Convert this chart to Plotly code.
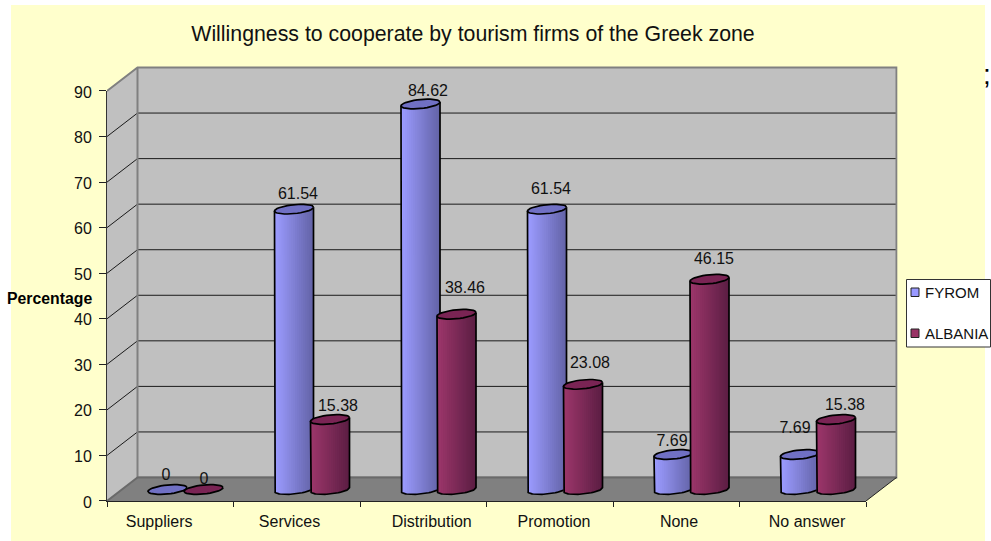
import math
import plotly.graph_objects as go

# ---------- data ----------
categories = ["Suppliers", "Services", "Distribution", "Promotion", "None", "No answer"]
fyrom = [0, 61.54, 84.62, 61.54, 7.69, 7.69]
albania = [0, 15.38, 38.46, 23.08, 46.15, 15.38]
y_ticks = [0, 10, 20, 30, 40, 50, 60, 70, 80, 90]
title_text = "Willingness to cooperate by tourism firms of the Greek zone"
y_title = "Percentage"
series_names = ["FYROM", "ALBANIA"]
fyrom_labels = ["0", "61.54", "84.62", "61.54", "7.69", "7.69"]
albania_labels = ["0", "15.38", "38.46", "23.08", "46.15", "15.38"]
stray_text = ";"

# ---------- page geometry (pixels) ----------
W, H = 991, 541
X0, Y0 = 107, 501          # origin of the front plane
XU, YU = 126.5, 4.5556     # pixels per category / per percent
XMAX, YMAX = 6.25, 96.0
DX, DY = 30.5 / XU, 23.5 / YU  # depth offset of the back wall
FLOOR_Y = 11.5 / YU        # cylinder base centre above the front edge
CENTER = [60.5 / XU, 96.5 / XU]  # centre of the series' cylinders inside a category
RX = 19.5 / XU
TILT = 1.9 / YU
RY = 4.5 / YU
N_STRIP = 19
LABEL_TICK_X = [0.412, 1.443, 2.567, 3.534, 4.522, 5.534]
LABEL_DX = [[-1.5, 4, 7.5, 4, -1.5, -5], [0.5, 8, 8.5, 7, 4.5, 9]]
LABEL_DY = [[13.5, 14.5, 12, 19, 12.5, 25.5], [9.5, 12.5, 25, 20.5, 19, 13.5]]
BLUE = ((155, 155, 255), (100, 100, 168))
RED = ((156, 54, 106), (92, 30, 68))
BLUE_TOP, RED_TOP = "#7070C4", "#7A2454"
INK = "#111111"
FONT = "Liberation Sans"


def px_x(v):
    return v / W


def px_y(v):
    return (H - v) / H


def lerp(pair, t):
    return "rgb(%d,%d,%d)" % tuple(round(a + (b - a) * t) for a, b in zip(*pair))


fig = go.Figure()


def poly(xs, ys, fill=None, line=None, width=1, axes=("x", "y")):
    fig.add_trace(go.Scatter(
        x=xs, y=ys, mode="lines", xaxis=axes[0], yaxis=axes[1],
        fill="toself" if fill else "none", fillcolor=fill,
        line=dict(color=line or "rgba(0,0,0,0)", width=width if line else 0),
        hoverinfo="skip", showlegend=False, connectgaps=False,
    ))


# walls and floor
top = 90
poly([0, DX, DX, 0, 0], [top, top + DY, DY, 0, top], fill="#C0C0C0")
poly([DX, 6 + DX, 6 + DX, DX, DX], [DY, DY, top + DY, top + DY, DY], fill="#C0C0C0")
poly([0, 6, 6 + DX, DX, 0], [0, 0, DY, DY, 0], fill="#808080")

# grid lines
gx, gy = [], []
for v in y_ticks[1:-1]:
    gx += [0, DX, 6 + DX, None]
    gy += [v, v + DY, v + DY, None]
poly(gx, gy, line="#1a1a1a", width=1)
poly([0, DX, 6 + DX, 6 + DX, DX, DX], [top, top + DY, top + DY, DY, DY, top + DY], line="#808080", width=2)
poly([0, DX, 6 + DX], [0, DY, DY], line="#6a6a6a", width=2)
poly([6, 6 + DX], [0, DY], line="#222222", width=1)


def ellipse_points(cx, cy, start, stop, n=36):
    xs, ys = [], []
    for k in range(n + 1):
        t = start + (stop - start) * k / n
        xs.append(cx + RX * math.cos(t))
        ys.append(cy + TILT * math.cos(t) + RY * math.sin(t))
    return xs, ys


for s, (vals, ramp, top_col) in enumerate(((fyrom, BLUE, BLUE_TOP), (albania, RED, RED_TOP))):
    # body, as vertical strips running from the base arc to the top rim
    for j in range(N_STRIP):
        sx, sy = [], []
        c0 = -1 + 2 * j / N_STRIP
        c1 = min(1.0, -1 + 2 * (j + 1.6) / N_STRIP)
        for i, v in enumerate(vals):
            cx = i + CENTER[s]
            base = FLOOR_Y
            top_y = FLOOR_Y + v
            lo0 = base + TILT * c0 - RY * math.sqrt(max(0, 1 - c0 * c0))
            lo1 = base + TILT * c1 - RY * math.sqrt(max(0, 1 - c1 * c1))
            hi0 = top_y + TILT * c0
            hi1 = top_y + TILT * c1
            sx += [cx + RX * c0, cx + RX * c1, cx + RX * c1, cx + RX * c0, cx + RX * c0, None]
            sy += [lo0, lo1, hi1, hi0, lo0, None]
        poly(sx, sy, fill=lerp(ramp, j / (N_STRIP - 1)))
    # outline of the body
    ox, oy = [], []
    for i, v in enumerate(vals):
        cx = i + CENTER[s]
        if v > 0:
            ax, ay = ellipse_points(cx, FLOOR_Y, math.pi, 2 * math.pi)
            ox += [cx - RX] + ax + [cx + RX, None]
            oy += [FLOOR_Y + v - TILT] + ay + [FLOOR_Y + v + TILT, None]
    poly(ox, oy, line="#000000", width=1.7)
    # top rim
    ex, ey = [], []
    for i, v in enumerate(vals):
        ax, ay = ellipse_points(i + CENTER[s], FLOOR_Y + v, 0, 2 * math.pi)
        ex += ax + [None]
        ey += ay + [None]
    poly(ex, ey, fill=top_col, line="#000000", width=1.7)

# data labels
for s, (vals, texts) in enumerate(((fyrom, fyrom_labels), (albania, albania_labels))):
    fig.add_trace(go.Scatter(
        x=[i + CENTER[s] + LABEL_DX[s][i] / XU for i in range(len(vals))],
        y=[FLOOR_Y + v + LABEL_DY[s][i] / YU for i, v in enumerate(vals)],
        mode="text", text=texts, textposition="middle center",
        textfont=dict(family=FONT, size=16, color=INK),
        hoverinfo="skip", showlegend=False, cliponaxis=False,
    ))

# empty trace that keeps the front-plane axes alive
fig.add_trace(go.Scatter(x=[None], y=[None], xaxis="x2", yaxis="y2", mode="lines",
                         hoverinfo="skip", showlegend=False))

shapes = [
    dict(type="rect", xref="paper", yref="paper", layer="below",
         x0=px_x(11), x1=px_x(985), y0=px_y(541), y1=px_y(5),
         fillcolor="#FFFFCC", line=dict(width=0)),
    dict(type="rect", xref="paper", yref="paper", layer="below",
         x0=px_x(906.5), x1=px_x(990.5), y0=px_y(347), y1=px_y(279.5),
         fillcolor="#FFFFFF", line=dict(color="#333333", width=1)),
    dict(type="rect", xref="paper", yref="paper", layer="below",
         x0=px_x(911), x1=px_x(919), y0=px_y(296.5), y1=px_y(288),
         fillcolor="#9999FF", line=dict(color="#222222", width=1)),
    dict(type="rect", xref="paper", yref="paper", layer="below",
         x0=px_x(911), x1=px_x(919), y0=px_y(337.5), y1=px_y(329),
         fillcolor="#993366", line=dict(color="#222222", width=1)),
]

annotations = [
    dict(text=y_title, xref="paper", yref="paper", x=px_x(49), y=px_y(298), showarrow=False,
         xanchor="center", yanchor="middle", font=dict(family=FONT, size=15.8, color="#000000", weight="bold")),
    dict(text=series_names[0], xref="paper", yref="paper", x=px_x(923), y=px_y(292), showarrow=False,
         xanchor="left", yanchor="middle", font=dict(family=FONT, size=15, color=INK)),
    dict(text=series_names[1], xref="paper", yref="paper", x=px_x(923), y=px_y(333), showarrow=False,
         xanchor="left", yanchor="middle", font=dict(family=FONT, size=15, color=INK)),
    dict(text=stray_text, xref="paper", yref="paper", x=px_x(986.5), y=px_y(75), showarrow=False,
         xanchor="center", yanchor="middle", font=dict(family=FONT, size=28, color="#000000")),
]

tick_font = dict(family=FONT, size=16, color=INK)
fig.update_layout(
    width=W, height=H, autosize=False,
    margin=dict(l=0, r=0, t=0, b=0, pad=0),
    paper_bgcolor="#FFFFFF", plot_bgcolor="rgba(0,0,0,0)",
    showlegend=False, shapes=shapes, annotations=annotations,
    title=dict(text=title_text, x=px_x(473), y=px_y(33.5), xref="paper", yref="paper",
               xanchor="center", yanchor="middle", font=dict(family=FONT, size=21.3, color=INK)),
    # main drawing axes: same scale as the front plane, carrying the category labels
    xaxis=dict(domain=[px_x(X0), px_x(X0 + XMAX * XU)], range=[0, XMAX], anchor="y", automargin=False,
               tickmode="array", tickvals=LABEL_TICK_X, ticktext=categories, ticks="",
               ticklabelstandoff=9, tickfont=tick_font, showgrid=False, zeroline=False, showline=False),
    yaxis=dict(domain=[px_y(Y0), px_y(Y0 - YMAX * YU)], range=[0, YMAX], anchor="x", automargin=False,
               showticklabels=False, ticks="", showgrid=False, zeroline=False, showline=False),
    # front plane axes with their native ticks
    xaxis2=dict(domain=[px_x(X0), px_x(X0 + 6 * XU)], range=[0, 6], anchor="y2", automargin=False,
                tickmode="array", tickvals=list(range(7)), ticktext=[""] * 7,
                ticks="outside", ticklen=5, tickcolor="#222222", showgrid=False, zeroline=False,
                showline=True, linecolor="#222222", linewidth=1),
    yaxis2=dict(domain=[px_y(Y0), px_y(Y0 - 90 * YU)], range=[0, 90], anchor="x2", automargin=False,
                tickmode="array", tickvals=y_ticks, ticks="outside", ticklen=7, tickcolor="#222222",
                ticklabelstandoff=4, ticklabelshift=1, tickfont=tick_font, showgrid=False, zeroline=False,
                showline=True, linecolor="#333333", linewidth=1),
)

fig.write_html("out.html", config=dict(displayModeBar=False),
               post_script="document.body.style.margin='0';document.body.style.overflow='hidden';")
